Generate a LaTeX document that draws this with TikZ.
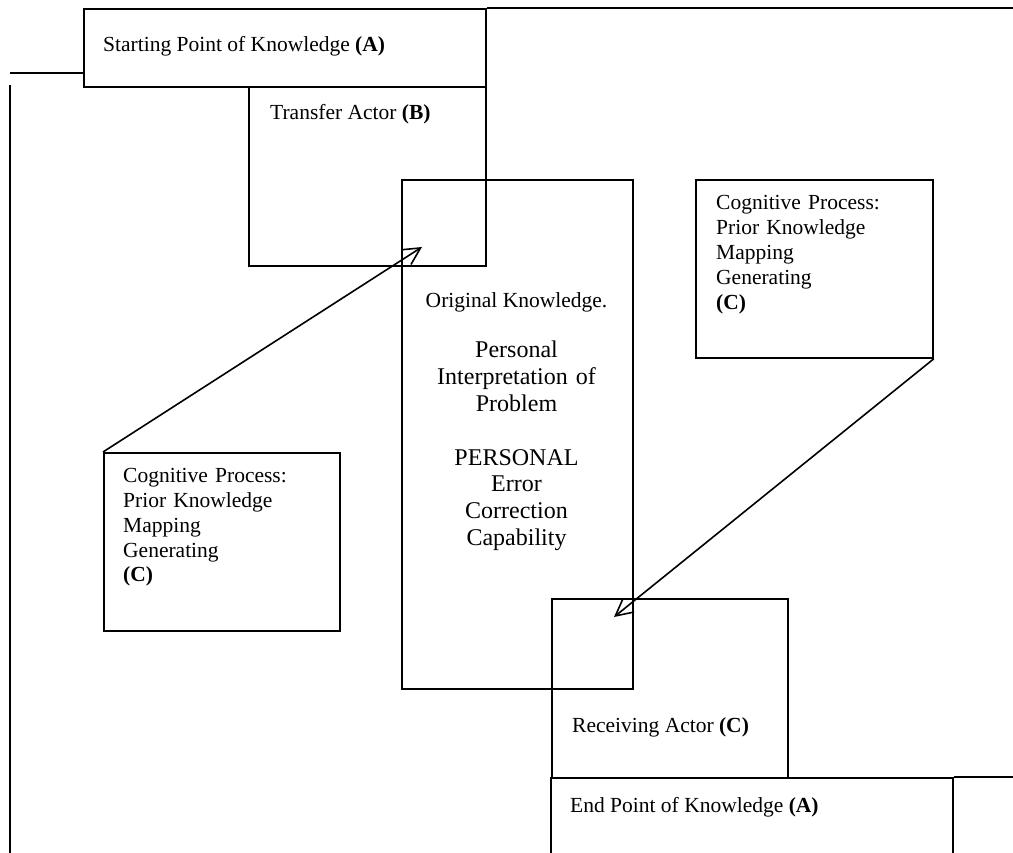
\documentclass[tikz,border=0pt]{standalone}
\usepackage{fontspec}
\setmainfont{Liberation Serif}
\usetikzlibrary{arrows.meta}
\begin{document}
\begin{tikzpicture}[x=1pt,y=-1pt,
  box/.style={draw, line width=1.8pt, rectangle, inner sep=0pt, anchor=north west},
  lbl/.style={inner sep=0pt, anchor=base west, font=\fontsize{21.5}{25}\selectfont},
  lines/.style={inner sep=0pt, anchor=base west, font=\fontsize{21.5}{25}\selectfont, align=left, text width=215pt},
  mid/.style={inner sep=0pt, anchor=base, font=\fontsize{24}{26.8}\selectfont, align=center, text width=228pt},
  conn/.style={line width=1.6pt, -{Straight Barb[length=17pt,width=17.5pt,line width=1.6pt]}},
  frame/.style={line width=1.8pt}]
\useasboundingbox (0,0) rectangle (1013,853);
\clip (0,0) rectangle (1013,853);
% boxes
\node[box, minimum width=402pt, minimum height=78pt] (start) at (83,8) {};
\node[box, minimum width=237pt, minimum height=179pt] (transfer) at (248,86) {};
\node[box, minimum width=231pt, minimum height=509pt] (orig) at (401,179) {};
\node[box, minimum width=237pt, minimum height=178pt] (cogR) at (695,179) {};
\node[box, minimum width=236pt, minimum height=178pt] (cogL) at (103,452) {};
\node[box, minimum width=236pt, minimum height=179pt] (recv) at (551,598) {};
\node[box, minimum width=402pt, minimum height=120pt] (endk) at (550,777) {};
% frame remnants
\coordinate (tr) at (1013,8);
\draw[frame] (start.north east) -- (tr);
\coordinate (lh) at (10,73);
\draw[frame] (lh) -- (start.west |- lh);
\coordinate (lvt) at (10,85);
\coordinate (lvb) at (10,853);
\draw[frame] (lvt) -- (lvb);
\coordinate (br) at (1013,777);
\draw[frame] (endk.north east) -- (br);
% connectors
\coordinate (tipB) at (422,247);
\draw[conn] (cogL.north west) -- (tipB);
\coordinate (tipR) at (614,617);
\draw[conn] (cogR.south east) -- (tipR);
% texts
\node[lbl] (tStart) at (103,52) {Starting Point of Knowledge \textbf{(A)}};
\node[lbl] (tTrans) at (270,120) {Transfer Actor \textbf{(B)}};
\node[lbl, anchor=base] (tOrig) at (516.5,308) {Original Knowledge.};
\node[mid] (tPers) at (516.5,358) {Personal\\Interpretation of\\Problem\\[26.8pt]PERSONAL\\Error\\Correction\\Capability};
\node[lines] (tCogR) at (716,210) {Cognitive Process:\\Prior Knowledge\\Mapping\\Generating\\\textbf{(C)}};
\node[lines] (tCogL) at (123,482) {Cognitive Process:\\Prior Knowledge\\Mapping\\Generating\\\textbf{(C)}};
\node[lbl] (tRecv) at (572,732) {Receiving Actor \textbf{(C)}};
\node[lbl] (tEnd) at (570,812) {End Point of Knowledge \textbf{(A)}};
\end{tikzpicture}
\end{document}
